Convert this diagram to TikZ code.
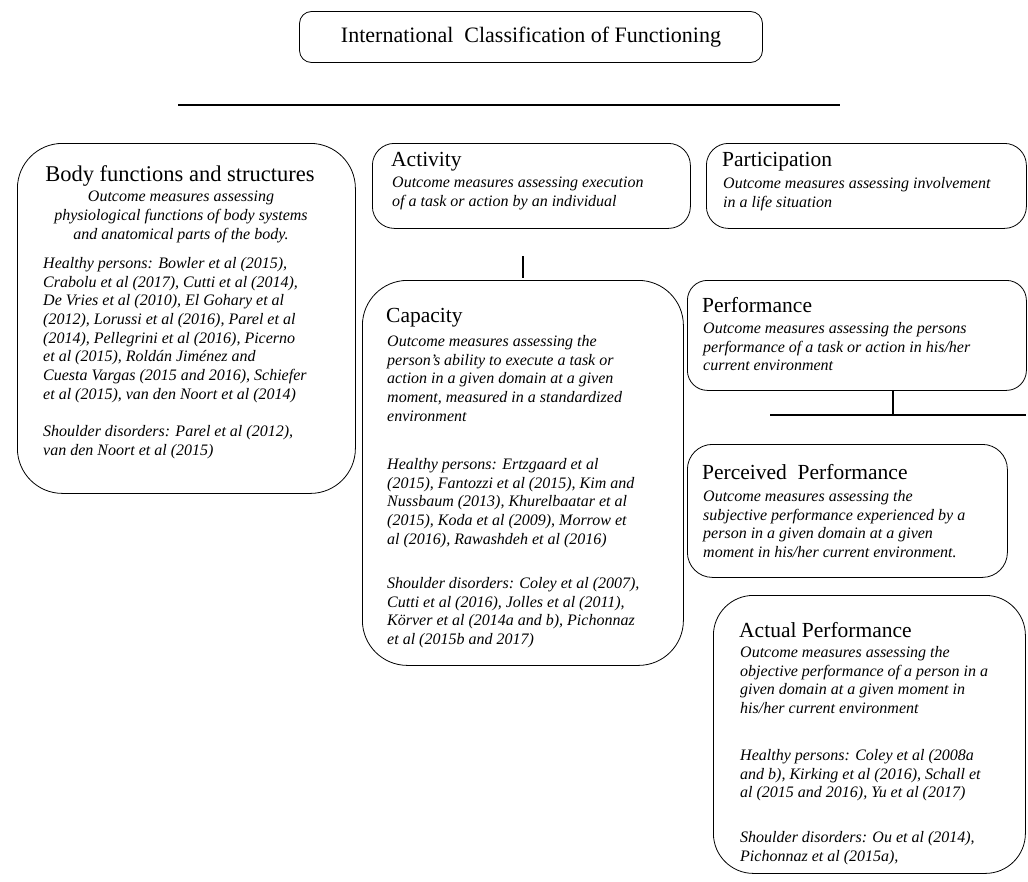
\documentclass[tikz,border=0pt]{standalone}
\usepackage{fontspec}
\setmainfont{Liberation Serif}
\begin{document}
\begin{tikzpicture}[x=1pt,y=-1pt]
\tikzset{
 box/.style={draw, line width=0.8pt, rounded corners=#1, inner sep=0pt, anchor=north west},
 box/.default=20pt,
 ttl/.style={inner sep=0pt, anchor=west, font=\fontsize{21.5}{24}\selectfont},
 txt/.style={inner sep=0pt, align=left, anchor=north west, font=\fontsize{16}{18.7}\selectfont\itshape},
 ctxt/.style={inner sep=0pt, align=center, anchor=north, font=\fontsize{16}{18.7}\selectfont\itshape},
 link/.style={draw, line width=1.2pt},
}
\useasboundingbox (0,0) rectangle (1028,881);

% top
\node[draw, line width=0.8pt, rounded corners=12pt, minimum width=463pt, minimum height=51pt, inner sep=0pt,
      font=\fontsize{22}{24}\selectfont] (icf) at (531,37) {International\ \ Classification of Functioning};
\coordinate (hl1) at (178,105);
\coordinate (hl2) at (840,105);
\draw[link] (hl1) -- (hl2);

% body functions
\node[box=45pt, minimum width=338pt, minimum height=350pt] (bodybox) at (17,143) {};
\node[ttl, anchor=center, font=\fontsize{22.5}{24}\selectfont] (bodyt) at (180,176) {Body functions and structures};
\node[ctxt] (bodyd) at (181,191) {Outcome measures assessing\\physiological functions of body systems\\and anatomical parts of the body.};
\node[txt] (bodyh) at (43,257) {Healthy persons: Bowler et al (2015),\\Crabolu et al (2017), Cutti et al (2014),\\De Vries et al (2010), El Gohary et al\\(2012), Lorussi et al (2016), Parel et al\\(2014), Pellegrini et al (2016), Picerno\\et al (2015), Roldán Jiménez and\\Cuesta Vargas (2015 and 2016), Schiefer\\et al (2015), van den Noort et al (2014)\\[18.7pt]Shoulder disorders: Parel et al (2012),\\van den Noort et al (2015)};

% activity
\node[box=22pt, minimum width=318pt, minimum height=85pt] (actbox) at (372,143) {};
\node[ttl] (actt) at (391,162) {Activity};
\node[txt] (actd) at (392,177) {Outcome measures assessing execution\\of a task or action by an individual};

% participation
\node[box=22pt, minimum width=320pt, minimum height=85pt] (parbox) at (706,143) {};
\node[ttl] (part) at (722,162) {Participation};
\node[txt] (pard) at (723,177) {Outcome measures assessing involvement\\in a life situation};

% activity -> capacity link
\coordinate (v1) at (523,256);
\coordinate (v2) at (523,278);
\draw[link] (v1) -- (v2);

% capacity
\node[box=45pt, minimum width=321pt, minimum height=385pt] (capbox) at (362,280) {};
\node[ttl] (capt) at (386,318) {Capacity};
\node[txt] (capd) at (387,335) {Outcome measures assessing the\\person's ability to execute a task or\\action in a given domain at a given\\moment, measured in a standardized\\environment};
\node[txt] (caph) at (387,458) {Healthy persons: Ertzgaard et al\\(2015), Fantozzi et al (2015), Kim and\\Nussbaum (2013), Khurelbaatar et al\\(2015), Koda et al (2009), Morrow et\\al (2016), Rawashdeh et al (2016)};
\node[txt] (caps) at (387,577) {Shoulder disorders: Coley et al (2007),\\Cutti et al (2016), Jolles et al (2011),\\Körver et al (2014a and b), Pichonnaz\\et al (2015b and 2017)};

% performance
\node[box=20pt, minimum width=339pt, minimum height=110pt] (perfbox) at (687,280) {};
\node[ttl] (perft) at (702,305) {Performance};
\node[txt] (perfd) at (703,322) {Outcome measures assessing the persons\\performance of a task or action in his/her\\current environment};
\coordinate (pc) at (893,415);
\coordinate (ph1) at (770,415);
\coordinate (ph2) at (1026,415);
\draw[link] (perfbox.south -| pc) -- (pc);
\draw[link] (ph1) -- (ph2);

% perceived performance
\node[box=25pt, minimum width=320pt, minimum height=133pt] (percbox) at (687,444) {};
\node[ttl] (perct) at (702,472) {Perceived\ \ Performance};
\node[txt] (percd) at (703,490) {Outcome measures assessing the\\subjective performance experienced by a\\person in a given domain at a given\\moment in his/her current environment.};

% actual performance
\node[box=40pt, minimum width=312pt, minimum height=278pt] (actpbox) at (713,595) {};
\node[ttl] (actpt) at (739,630) {Actual Performance};
\node[txt] (actpd) at (740,646) {Outcome measures assessing the\\objective performance of a person in a\\given domain at a given moment in\\his/her current environment};
\node[txt] (actph) at (740,749) {Healthy persons: Coley et al (2008a\\and b), Kirking et al (2016), Schall et\\al (2015 and 2016), Yu et al (2017)};
\node[txt] (actps) at (740,831) {Shoulder disorders: Ou et al (2014),\\Pichonnaz et al (2015a),};
\end{tikzpicture}
\end{document}
